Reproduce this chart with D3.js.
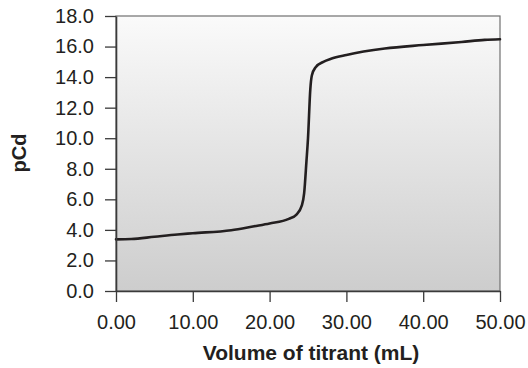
<!DOCTYPE html>
<html>
<head>
<meta charset="utf-8">
<script src="https://cdn.jsdelivr.net/npm/d3@7"></script>
<style>
  html, body { margin: 0; padding: 0; background: #ffffff; }
  svg { display: block; }
  text { font-family: "Liberation Sans", Arial, Helvetica, sans-serif; fill: #231f20; }
</style>
</head>
<body>
<svg id="chart" width="528" height="368"></svg>
<script>
// Data
const volume = [0, 2, 5, 8, 10, 15, 18, 20, 22.5, 23.5, 24.2, 24.5, 24.8, 25.0, 25.3, 25.5, 26, 27, 28, 30, 35, 40, 45, 48, 50];
const pCd    = [3.38, 3.40, 3.55, 3.70, 3.78, 3.98, 4.24, 4.42, 4.72, 5.0, 5.6, 6.4, 8.5, 10.0, 13.2, 14.1, 14.65, 15.0, 15.2, 15.45, 15.87, 16.1, 16.3, 16.44, 16.48];
const xTicks = [0, 10, 20, 30, 40, 50];
const yTicks = [0, 2, 4, 6, 8, 10, 12, 14, 16, 18];
const xTitle = "Volume of titrant (mL)";
const yTitle = "pCd";

const svg = d3.select("#chart");
const mLeft = 116, mRight = 500, mTop = 16, mBottom = 291;

const x = d3.scaleLinear().domain([0, 50]).range([mLeft, mRight]);
const y = d3.scaleLinear().domain([0, 18]).range([mBottom, mTop]);

// gradient background
const defs = svg.append("defs");
const grad = defs.append("linearGradient").attr("id", "bg")
  .attr("x1", 0).attr("y1", 0).attr("x2", 0).attr("y2", 1);
grad.append("stop").attr("offset", "0%").attr("stop-color", "#fafafa");
grad.append("stop").attr("offset", "100%").attr("stop-color", "#cdcdcd");

svg.append("rect")
  .attr("x", mLeft).attr("y", mTop)
  .attr("width", mRight - mLeft).attr("height", mBottom - mTop)
  .attr("fill", "url(#bg)")
  .attr("stroke", "#707070").attr("stroke-width", 1.2);

// line
const pts = volume.map((v, i) => [v, pCd[i]]);
const line = d3.line().x(d => x(d[0])).y(d => y(d[1])).curve(d3.curveMonotoneX);
svg.append("path").datum(pts)
  .attr("d", line)
  .attr("fill", "none")
  .attr("stroke", "#231f20")
  .attr("stroke-width", 2.6)
  .attr("stroke-linejoin", "round")
  .attr("stroke-linecap", "round");

// axes
const xAxis = d3.axisBottom(x).tickValues(xTicks).tickFormat(d3.format(".2f"))
  .tickSize(11).tickSizeOuter(0).tickPadding(13);
const yAxis = d3.axisLeft(y).tickValues(yTicks).tickFormat(d3.format(".1f"))
  .tickSize(11).tickSizeOuter(0).tickPadding(11);

const gx = svg.append("g").attr("transform", `translate(0,${mBottom})`).call(xAxis);
const gy = svg.append("g").attr("transform", `translate(${mLeft},0)`).call(yAxis);

[gx, gy].forEach(g => {
  g.select(".domain").attr("stroke", "#3a3a3a").attr("stroke-width", 1.6);
  g.selectAll(".tick line").attr("stroke", "#3a3a3a").attr("stroke-width", 1.3);
  g.selectAll(".tick text")
    .attr("font-family", '"Liberation Sans", Arial, Helvetica, sans-serif')
    .attr("font-size", 20)
    .attr("fill", "#231f20");
});

// titles
svg.append("text")
  .attr("x", 311).attr("y", 360)
  .attr("text-anchor", "middle")
  .attr("font-size", 21).attr("font-weight", "bold")
  .text(xTitle);

svg.append("text")
  .attr("transform", "translate(26,153) rotate(-90)")
  .attr("text-anchor", "middle")
  .attr("font-size", 20).attr("font-weight", "bold")
  .text(yTitle);
</script>
</body>
</html>
